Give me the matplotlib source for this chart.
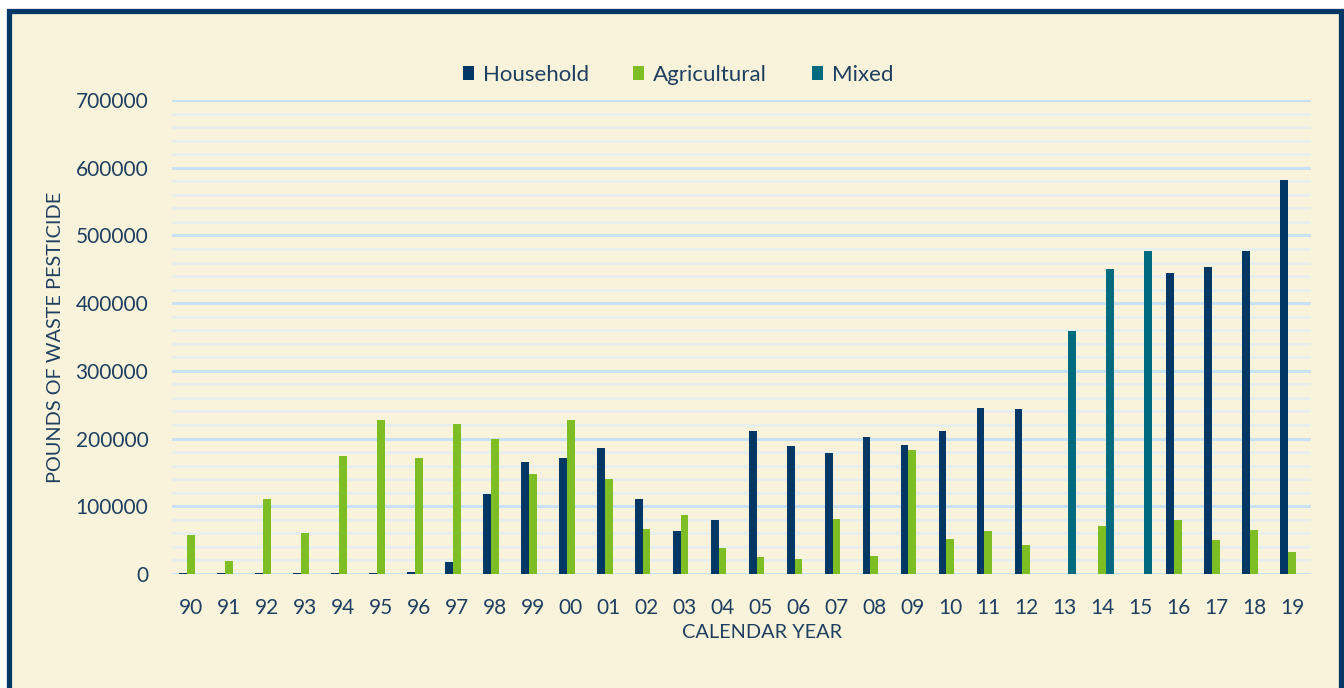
import matplotlib
matplotlib.use("Agg")
import matplotlib.pyplot as plt
from matplotlib.patches import Rectangle, Patch
from matplotlib.ticker import MultipleLocator
import numpy as np

years = ['90', '91', '92', '93', '94', '95', '96', '97', '98', '99',
         '00', '01', '02', '03', '04', '05', '06', '07', '08', '09',
         '10', '11', '12', '13', '14', '15', '16', '17', '18', '19']
household = [1500, 1500, 1500, 1500, 1500, 1500, 3500, 18000, 118000, 166000,
             172000, 186000, 111000, 64000, 80000, 211000, 189000, 178000, 202000, 191000,
             211000, 245000, 244000, 0, 0, 0, 445000, 453000, 477000, 582000]
agricultural = [58000, 19000, 111000, 61000, 175000, 227000, 172000, 222000, 199000, 147000,
                227000, 140000, 67000, 87000, 39000, 25000, 22000, 81000, 27000, 183000,
                52000, 63000, 43000, 0, 71000, 0, 80000, 50500, 65000, 33000]
mixed = [0] * 23 + [359000, 450000, 477000] + [0] * 4
series_names = ['Household', 'Agricultural', 'Mixed']

C_H = '#003764'
C_A = '#7DBE24'
C_M = '#006A7E'
BG = '#FAF3DC'
TXT = '#1E3F60'
FONT = 'Lato'

plt.rcParams['font.family'] = [FONT, 'DejaVu Sans']

W, H = 1344, 688
fig = plt.figure(figsize=(W / 100, H / 100), dpi=100)
fig.patch.set_facecolor('white')

# framed background
frame = Rectangle((8.5 / W, -0.01), (1340.5 - 8.5) / W, (H - 10.5) / H + 0.01,
                  transform=fig.transFigure, facecolor=BG,
                  edgecolor=C_H, linewidth=3.8, zorder=-10)
fig.patches.append(frame)

ax = fig.add_axes([172 / W, 1 - 574 / H, (1311 - 172) / W, (574 - 100) / H])
ax.set_facecolor('none')
ax.set_zorder(1)

x = np.arange(len(years))
bw = 0.205
ax.bar(x - bw, household, bw, color=C_H, linewidth=0, zorder=3, label=series_names[0])
ax.bar(x, agricultural, bw, color=C_A, linewidth=0, zorder=3, label=series_names[1])
ax.bar(x + bw, mixed, bw, color=C_M, linewidth=0, zorder=3, label=series_names[2])

ax.set_xlim(-0.5, len(years) - 0.5)
ax.set_ylim(0, 700000)
ax.yaxis.set_major_locator(MultipleLocator(100000))
ax.yaxis.set_minor_locator(MultipleLocator(20000))
ax.grid(axis='y', which='minor', color='#E6EEEE', linewidth=2.0, zorder=1)
ax.grid(axis='y', which='major', color='#C8E2F5', linewidth=2.2, zorder=2)
ax.set_axisbelow(True)

ax.set_xticks(x)
ax.set_xticklabels(years)
ax.set_yticks(np.arange(0, 700001, 100000))
ax.set_yticklabels([str(v) for v in range(0, 700001, 100000)])
ax.tick_params(axis='both', which='both', length=0, colors=TXT, labelsize=15)
ax.tick_params(axis='y', pad=17)
ax.tick_params(axis='x', pad=17)
for s in ax.spines.values():
    s.set_visible(False)

fig.text(56 / W, 1 - 337 / H, 'POUNDS OF WASTE PESTICIDE', rotation=90,
         ha='center', va='center', fontsize=14.3, color=TXT)
fig.text(762 / W, 1 - 632 / H, 'CALENDAR YEAR', ha='center', va='center',
         fontsize=14.3, color=TXT)

handles = [Patch(facecolor=C_H), Patch(facecolor=C_A), Patch(facecolor=C_M)]
fig.legend(handles, series_names, loc='center', bbox_to_anchor=(678 / W, 1 - 75 / H),
           ncol=3, frameon=False, fontsize=16, labelcolor=TXT,
           handlelength=0.5, handleheight=0.6, handletextpad=0.4, columnspacing=2.0)

fig.savefig('out.png', dpi=100, facecolor=fig.get_facecolor())
